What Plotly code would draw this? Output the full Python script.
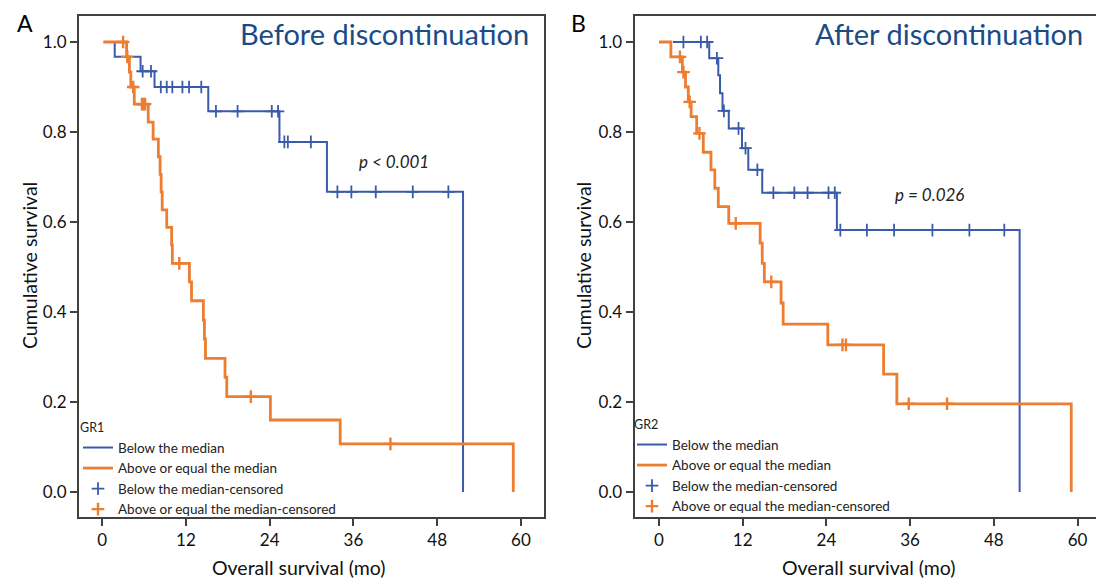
import plotly.graph_objects as go

# ---------------- data ----------------
month_ticks = [0, 12, 24, 36, 48, 60]
surv_ticks = [0.0, 0.2, 0.4, 0.6, 0.8, 1.0]

group_names = ["Below the median", "Above or equal the median",
               "Below the median-censored", "Above or equal the median-censored"]

# Panel A: GR1, before discontinuation
a_below_t = [0.2, 1.8, 5.5, 7.5, 15.2, 25.4, 32.2, 51.7]
a_below_s = [1.0, 0.967, 0.935, 0.900, 0.846, 0.778, 0.667, 0.0]
a_below_cens = [5.8, 7.0, 8.4, 9.25, 10.05, 11.5, 12.45, 14.2, 16.3, 19.4, 24.3, 25.2,
                26.1, 26.6, 29.9, 33.7, 35.7, 39.2, 44.5, 49.6]

a_above_t = [0.2, 3.5, 3.9, 4.1, 4.6, 6.6, 7.3, 8.05, 8.3, 8.45, 8.6, 9.25, 9.95, 10.05,
             12.5, 12.8, 14.5, 14.65, 14.8, 17.6, 17.85, 24.1, 34.1, 58.9]
a_above_s = [1.0, 0.967, 0.933, 0.900, 0.862, 0.822, 0.784, 0.745, 0.706, 0.667, 0.627,
             0.588, 0.549, 0.508, 0.467, 0.425, 0.382, 0.340, 0.297, 0.255, 0.212,
             0.160, 0.107, 0.0]
a_above_cens = [3.0, 3.6, 4.45, 5.7, 5.9, 6.15, 11.05, 21.3, 41.3]

# Panel B: GR2, after discontinuation
b_below_t = [2.0, 7.2, 8.5, 8.75, 9.1, 10.0, 11.9, 12.8, 14.8, 25.5, 51.7]
b_below_s = [1.0, 0.964, 0.926, 0.886, 0.847, 0.808, 0.764, 0.716, 0.665, 0.582, 0.0]
b_below_cens = [3.5, 6.0, 6.9, 8.3, 9.3, 11.4, 12.4, 14.1, 16.4, 19.4, 21.3, 24.3, 25.2,
                26.0, 29.8, 33.7, 39.2, 44.5, 49.5]

b_above_t = [0.0, 1.7, 3.35, 3.8, 4.2, 4.6, 5.4, 6.35, 7.45, 8.0, 8.5, 10.0, 14.5, 14.8,
             15.1, 17.5, 17.8, 24.2, 32.2, 34.1, 59.1]
b_above_s = [1.0, 0.967, 0.933, 0.900, 0.867, 0.834, 0.797, 0.755, 0.716, 0.675, 0.634,
             0.597, 0.553, 0.508, 0.467, 0.420, 0.373, 0.327, 0.262, 0.196, 0.0]
b_above_cens = [3.0, 3.5, 4.4, 5.8, 11.0, 16.1, 26.3, 26.8, 35.8, 41.3]

panel_titles = ["Before discontinuation", "After discontinuation"]
panel_letters = ["A", "B"]
legend_titles = ["GR1", "GR2"]
p_texts = ["<i>p &lt; 0.001</i>", "<i>p = 0.026</i>"]
p_pos = [(41.8, 0.734), (38.8, 0.66)]

# ---------------- styling ----------------
BLUE = "#3A5BAA"
ORANGE = "#ED7D31"
AXIS = "#404040"
TITLE_BLUE = "#1B4B87"
FONT = "Lato, Carlito, 'Open Sans', sans-serif"


def level_at(times, surv, t):
    val = surv[0]
    for ti, si in zip(times, surv):
        if ti <= t:
            val = si
        else:
            break
    return val


fig = go.Figure()

panels = [
    (a_below_t, a_below_s, a_below_cens, a_above_t, a_above_s, a_above_cens, "x", "y", "legend"),
    (b_below_t, b_below_s, b_below_cens, b_above_t, b_above_s, b_above_cens, "x2", "y2", "legend2"),
]

for bt, bs, bc, at, as_, ac, xa, ya, lg in panels:
    fig.add_trace(go.Scatter(x=bt, y=bs, mode="lines", line=dict(color=BLUE, width=2, shape="hv"),
                             name=group_names[0], legend=lg, legendrank=1, xaxis=xa, yaxis=ya,
                             hoverinfo="skip"))
    fig.add_trace(go.Scatter(x=bc, y=[level_at(bt, bs, t) for t in bc], mode="markers",
                             marker=dict(symbol="cross-thin-open", size=9, color=BLUE,
                                         line=dict(color=BLUE, width=1.8)),
                             name=group_names[2], legend=lg, legendrank=3, xaxis=xa, yaxis=ya,
                             hoverinfo="skip"))
    fig.add_trace(go.Scatter(x=at, y=as_, mode="lines", line=dict(color=ORANGE, width=2.8, shape="hv"),
                             name=group_names[1], legend=lg, legendrank=2, xaxis=xa, yaxis=ya,
                             hoverinfo="skip"))
    fig.add_trace(go.Scatter(x=ac, y=[level_at(at, as_, t) for t in ac], mode="markers",
                             marker=dict(symbol="cross-thin-open", size=9, color=ORANGE,
                                         line=dict(color=ORANGE, width=2.4)),
                             name=group_names[3], legend=lg, legendrank=4, xaxis=xa, yaxis=ya,
                             hoverinfo="skip"))

W, H = 1096, 579


def px(x):
    return x / W


def py(y):
    return 1 - y / H


axis_common = dict(showline=True, linewidth=2, linecolor=AXIS, ticks="outside", ticklen=7,
                   tickwidth=2, tickcolor=AXIS, showgrid=False, zeroline=False,
                   tickfont=dict(family=FONT, size=17, color="#111111"))

ydom = [py(517), py(16)]
fig.update_layout(
    width=W, height=H,
    margin=dict(l=0, r=0, t=0, b=0),
    paper_bgcolor="white", plot_bgcolor="white",
    font=dict(family=FONT, color="#111111"),
    showlegend=True,
    xaxis=dict(domain=[px(79), px(544)], range=[-3.32, 63.3], tickvals=month_ticks,
               mirror=True, anchor="y", **axis_common),
    yaxis=dict(domain=ydom, range=[-0.0556, 1.0578], tickvals=surv_ticks, tickformat=".1f",
               mirror=True, anchor="x", **axis_common),
    xaxis2=dict(domain=[px(634.6), 1.0], range=[-3.5, 62.65], tickvals=month_ticks,
                mirror=True, anchor="y2", **axis_common),
    yaxis2=dict(domain=ydom, range=[-0.0556, 1.0578], tickvals=surv_ticks, tickformat=".1f",
                mirror=False, anchor="x2", **axis_common),
    legend=dict(x=px(78), y=py(416), xanchor="left", yanchor="top", bgcolor="rgba(0,0,0,0)",
                title=dict(text=legend_titles[0], font=dict(size=12.5, family=FONT, color="#222222")),
                font=dict(size=13.5, family=FONT, color="#222222"), itemwidth=30, tracegroupgap=0),
    legend2=dict(x=px(632), y=py(413), xanchor="left", yanchor="top", bgcolor="rgba(0,0,0,0)",
                 title=dict(text=legend_titles[1], font=dict(size=12.5, family=FONT, color="#222222")),
                 font=dict(size=13.5, family=FONT, color="#222222"), itemwidth=30, tracegroupgap=0),
)

annotations = []
# panel titles
annotations.append(dict(text=panel_titles[0], x=px(531), y=py(34), xref="paper", yref="paper",
                        xanchor="right", yanchor="middle", showarrow=False,
                        font=dict(family=FONT, size=29, color=TITLE_BLUE)))
annotations.append(dict(text=panel_titles[1], x=px(1085), y=py(34), xref="paper", yref="paper",
                        xanchor="right", yanchor="middle", showarrow=False,
                        font=dict(family=FONT, size=29, color=TITLE_BLUE)))
# panel letters
annotations.append(dict(text=panel_letters[0], x=px(25), y=py(23), xref="paper", yref="paper",
                        xanchor="center", yanchor="middle", showarrow=False,
                        font=dict(family=FONT, size=23, color="black")))
annotations.append(dict(text=panel_letters[1], x=px(578), y=py(23), xref="paper", yref="paper",
                        xanchor="center", yanchor="middle", showarrow=False,
                        font=dict(family=FONT, size=23, color="black")))
# axis titles
for xc in (298.6, 869):
    annotations.append(dict(text="Overall survival (mo)", x=px(xc), y=py(567), xref="paper",
                            yref="paper", xanchor="center", yanchor="middle", showarrow=False,
                            font=dict(family=FONT, size=19.5, color="#111111")))
for xc in (29, 583):
    annotations.append(dict(text="Cumulative survival", x=px(xc), y=py(266), xref="paper",
                            yref="paper", xanchor="center", yanchor="middle", showarrow=False,
                            textangle=-90, font=dict(family=FONT, size=19.5, color="#111111")))
# p-values
for (xv, yv), txt, xr, yr in zip(p_pos, p_texts, ("x", "x2"), ("y", "y2")):
    annotations.append(dict(text=txt, x=xv, y=yv, xref=xr, yref=yr, xanchor="center",
                            yanchor="middle", showarrow=False,
                            font=dict(family=FONT, size=17, color="#222222")))

fig.update_layout(annotations=annotations)

fig.write_html("out.html",
               config={"displayModeBar": False},
               post_script="document.body.style.margin='0';document.body.style.padding='0';")
